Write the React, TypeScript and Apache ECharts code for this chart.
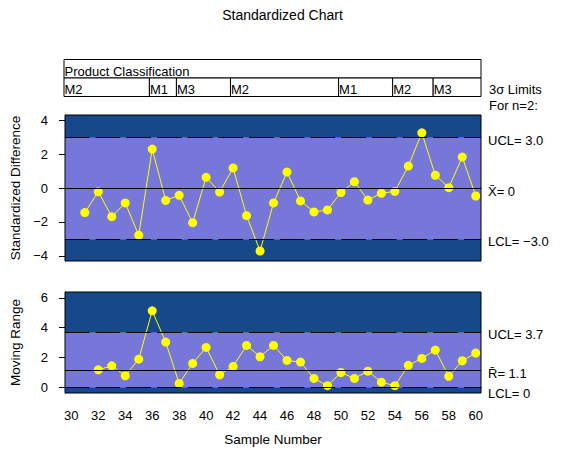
import React, { useEffect, useRef } from 'react'
import * as echarts from 'echarts'

// standardized differences, samples 31..60
const samples = [31, 32, 33, 34, 35, 36, 37, 38, 39, 40, 41, 42, 43, 44, 45, 46, 47, 48, 49, 50, 51, 52, 53, 54, 55, 56, 57, 58, 59, 60]
const stdDiff = [-1.45, -0.22, -1.69, -0.88, -2.78, 2.29, -0.73, -0.43, -2.04, 0.63, -0.24, 1.18, -1.63, -3.71, -0.88, 0.94, -0.76, -1.41, -1.29, -0.27, 0.37, -0.71, -0.31, -0.2, 1.29, 3.25, 0.75, 0.02, 1.82, -0.47]

// moving ranges, samples 32..60
const rangeSamples = [32, 33, 34, 35, 36, 37, 38, 39, 40, 41, 42, 43, 44, 45, 46, 47, 48, 49, 50, 51, 52, 53, 54, 55, 56, 57, 58, 59, 60]
const movingRange = [1.16, 1.43, 0.76, 1.88, 5.13, 3.03, 0.24, 1.59, 2.67, 0.83, 1.39, 2.8, 2.04, 2.8, 1.79, 1.68, 0.58, 0.09, 0.98, 0.58, 1.07, 0.33, 0.09, 1.46, 1.93, 2.49, 0.72, 1.77, 2.29]

// product classification phases
const phaseLabels = ['M2', 'M1', 'M3', 'M2', 'M1', 'M2', 'M3']
const phaseStarts = [30, 36, 38, 42, 50, 54, 57]

// control limits
const stdLimits = { lcl: -3, center: 0, ucl: 3 }
const mrLimits = { lcl: 0, center: 1.13, ucl: 3.7 }

// ticks
const sampleTicks = [30, 32, 34, 36, 38, 40, 42, 44, 46, 48, 50, 52, 54, 56, 58, 60]
const stdTicks = [-4, -2, 0, 2, 4]
const mrTicks = [0, 2, 4, 6]

const X_MIN = 29.53
const X_MAX = 60.39
const STD_MIN = -4.3
const STD_MAX = 4.3
const MR_MIN = -0.4
const MR_MAX = 6.4

const FONT = "'Liberation Sans', Arial, sans-serif"
const DARK = '#16488A'
const LIGHT = '#7777D9'
const GAP = '#4F68C8'
const YELLOW = '#FFFF00'

const fmt = (v: number, d = 1) => (v === 0 ? '0' : v.toFixed(d)).replace('-', '\u2212')

export default function App() {
  const chartRef: any = useRef()

  useEffect(() => {
    document.body.style.margin = '0'
    const myChart = echarts.init(chartRef.current, null, { renderer: 'svg' })

    const textStyle = { color: '#000', fontFamily: FONT, fontSize: 13 }

    const limitLines = (lim: any, names: string[], offsets: number[]) => {
      const dash = { color: '#000', type: [24.5, 6.2], width: 1 }
      const lbl = (text: string, dy: number) => ({
        show: true,
        position: 'end',
        distance: 7,
        offset: [0, dy],
        formatter: text,
        ...textStyle
      })
      return [
        { yAxis: lim.ucl, lineStyle: { color: GAP, type: 'solid', width: 1 }, label: { show: false } },
        { yAxis: lim.lcl, lineStyle: { color: GAP, type: 'solid', width: 1 }, label: { show: false } },
        { yAxis: lim.ucl, lineStyle: dash, label: lbl(`UCL= ${fmt(lim.ucl)}`, offsets[0]) },
        { yAxis: lim.center, lineStyle: { color: '#000', type: 'solid', width: 1 }, label: lbl(`${names[0]}= ${fmt(lim.center)}`, offsets[1]) },
        { yAxis: lim.lcl, lineStyle: dash, label: lbl(`LCL= ${lim.lcl === 0 ? '0' : fmt(lim.lcl)}`, offsets[2]) }
      ]
    }

    const phaseBounds = phaseStarts.map((s, i) => (i === 0 ? X_MIN : s - 0.15))
    const cellStyle = { color: '#fff', borderColor: '#000', borderWidth: 1 }
    const cellLabel = { show: true, position: 'insideBottomLeft', distance: 1, ...textStyle }

    const xAxisBase = (gridIndex: number, labels: boolean) => ({
      type: 'value',
      gridIndex,
      min: X_MIN,
      max: X_MAX,
      splitLine: { show: false },
      axisLine: { show: true, lineStyle: { color: '#000' } },
      axisTick: { show: true, length: 5, customValues: sampleTicks, lineStyle: { color: '#000' } },
      axisLabel: { show: labels, customValues: sampleTicks, margin: 16, ...textStyle },
      name: labels ? 'Sample Number' : '',
      nameLocation: 'middle',
      nameGap: 39,
      nameTextStyle: { ...textStyle, fontSize: 13.5 }
    })

    const yAxisBase = (gridIndex: number, min: number, max: number, ticks: number[], name: string) => ({
      type: 'value',
      gridIndex,
      min,
      max,
      splitLine: { show: false },
      axisLine: { show: true, lineStyle: { color: '#000' } },
      axisTick: { show: true, length: 6, customValues: ticks, lineStyle: { color: '#000' } },
      axisLabel: { customValues: ticks, margin: 17, formatter: (v: number) => fmt(v, 0), ...textStyle },
      name,
      nameLocation: 'middle',
      nameGap: 43,
      nameTextStyle: { ...textStyle, fontSize: 13.5 }
    })

    const option = {
      animation: false,
      title: {
        text: 'Standardized Chart',
        left: 'center',
        top: 3,
        textStyle: { ...textStyle, fontSize: 14, fontWeight: 'normal' }
      },
      grid: [
        { left: 64, right: 84, top: 59.5, height: 37, show: false },
        { left: 64, right: 84, top: 115, height: 146, show: true, z: 10, backgroundColor: 'transparent', borderColor: '#000', borderWidth: 1 },
        { left: 64, right: 84, top: 292, height: 101, show: true, z: 10, backgroundColor: 'transparent', borderColor: '#000', borderWidth: 1 }
      ],
      xAxis: [
        { type: 'value', gridIndex: 0, min: X_MIN, max: X_MAX, show: false },
        xAxisBase(1, false),
        xAxisBase(2, true)
      ],
      yAxis: [
        { type: 'value', gridIndex: 0, min: 0, max: 2, show: false },
        yAxisBase(1, STD_MIN, STD_MAX, stdTicks, 'Standardized Difference'),
        yAxisBase(2, MR_MIN, MR_MAX, mrTicks, 'Moving Range')
      ],
      graphic: [
        { type: 'text', left: 489, top: 83, style: { text: '3\u03C3 Limits', fill: '#000', font: `13px ${FONT}` } },
        { type: 'text', left: 489, top: 99, style: { text: 'For n=2:', fill: '#000', font: `13px ${FONT}` } }
      ],
      series: [
        {
          type: 'line',
          xAxisIndex: 0,
          yAxisIndex: 0,
          data: [],
          silent: true,
          markArea: {
            silent: true,
            data: [
              [{ name: 'Product Classification', yAxis: 1, xAxis: X_MIN, itemStyle: cellStyle, label: cellLabel }, { yAxis: 2, xAxis: X_MAX }],
              ...phaseLabels.map((p, i) => [
                { name: p, yAxis: 0, xAxis: phaseBounds[i], itemStyle: cellStyle, label: cellLabel },
                { yAxis: 1, xAxis: i < phaseLabels.length - 1 ? phaseBounds[i + 1] : X_MAX }
              ])
            ]
          }
        },
        {
          type: 'line',
          xAxisIndex: 1,
          yAxisIndex: 1,
          data: [],
          z: 1,
          silent: true,
          markArea: {
            silent: true,
            data: [
              [{ yAxis: STD_MIN, itemStyle: { color: DARK } }, { yAxis: STD_MAX }],
              [{ yAxis: stdLimits.lcl, itemStyle: { color: LIGHT } }, { yAxis: stdLimits.ucl }]
            ]
          },
          markLine: { symbol: 'none', silent: true, data: limitLines(stdLimits, ['X\u0304'], [3, 3, 3]) }
        },
        {
          type: 'line',
          xAxisIndex: 2,
          yAxisIndex: 2,
          data: [],
          z: 1,
          silent: true,
          markArea: {
            silent: true,
            data: [
              [{ yAxis: MR_MIN, itemStyle: { color: DARK } }, { yAxis: MR_MAX }],
              [{ yAxis: mrLimits.lcl, itemStyle: { color: LIGHT } }, { yAxis: mrLimits.ucl }]
            ]
          },
          markLine: { symbol: 'none', silent: true, data: limitLines(mrLimits, ['R\u0304'], [2, 3, 6]) }
        },
        {
          type: 'line',
          xAxisIndex: 1,
          yAxisIndex: 1,
          z: 3,
          data: samples.map((s, i) => [s, stdDiff[i]]),
          symbol: 'circle',
          symbolSize: 9,
          itemStyle: { color: YELLOW },
          lineStyle: { color: YELLOW, width: 1 }
        },
        {
          type: 'line',
          xAxisIndex: 2,
          yAxisIndex: 2,
          z: 3,
          data: rangeSamples.map((s, i) => [s, movingRange[i]]),
          symbol: 'circle',
          symbolSize: 9,
          itemStyle: { color: YELLOW },
          lineStyle: { color: YELLOW, width: 1 }
        }
      ]
    }

    myChart.setOption(option as any)
    return () => {
      myChart.dispose()
    }
  }, [])

  return <div ref={chartRef} style={{ width: 565, height: 450 }} />
}
